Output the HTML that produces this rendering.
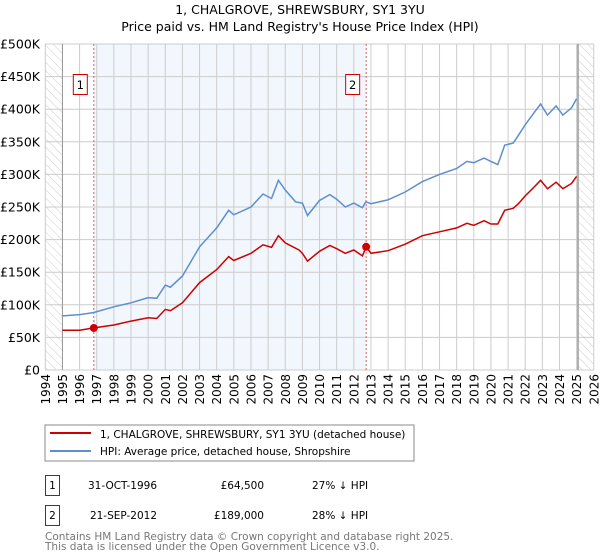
<!DOCTYPE html>
<html><head><meta charset="utf-8"><style>
body{margin:0;background:#fff;font-family:"DejaVu Sans","Liberation Sans",sans-serif;}
svg{display:block}
text{font-family:"DejaVu Sans","Liberation Sans",sans-serif;}
</style></head><body>
<svg id="c" width="600" height="560">
<defs><pattern id="hatch" width="6" height="6" patternUnits="userSpaceOnUse" patternTransform="rotate(-45)"><line x1="0" y1="0" x2="0" y2="6" stroke="#ccc" stroke-width="1"/></pattern></defs>
<text x="300" y="14" text-anchor="middle" font-size="12.5">1, CHALGROVE, SHREWSBURY, SY1 3YU</text>
<text x="300" y="31" text-anchor="middle" font-size="12.5">Price paid vs. HM Land Registry's House Price Index (HPI)</text>
<g id="plot"></g>
<rect x="45" y="425" width="369" height="36" fill="none" stroke="#888"/>
<line x1="50" y1="433" x2="91" y2="433" stroke="#cc0000" stroke-width="2"/>
<text x="100" y="438" font-size="10.5">1, CHALGROVE, SHREWSBURY, SY1 3YU (detached house)</text>
<line x1="50" y1="451" x2="91" y2="451" stroke="#5b8fd0" stroke-width="2"/>
<text x="100" y="455" font-size="10.5">HPI: Average price, detached house, Shropshire</text>
<g font-size="10.5">
<rect x="45.5" y="475.5" width="14" height="20" fill="#fff" stroke="#cc0000"/>
<text x="52.5" y="489" text-anchor="middle">1</text>
<text x="157" y="489" text-anchor="end">31-OCT-1996</text>
<text x="264" y="489" text-anchor="end">£64,500</text>
<text x="312" y="489">27% ↓ HPI</text>
<rect x="45.5" y="505.5" width="14" height="20" fill="#fff" stroke="#cc0000"/>
<text x="52.5" y="519" text-anchor="middle">2</text>
<text x="157" y="519" text-anchor="end">21-SEP-2012</text>
<text x="264" y="519" text-anchor="end">£189,000</text>
<text x="312" y="519">28% ↓ HPI</text>
</g>
<text x="45" y="540" font-size="10.5" fill="#777">Contains HM Land Registry data © Crown copyright and database right 2025.</text>
<text x="45" y="550" font-size="10.5" fill="#777">This data is licensed under the Open Government Licence v3.0.</text>
</svg>
<script>
const yTicks=[0,50,100,150,200,250,300,350,400,450,500];
const yLabels=["£0","£50K","£100K","£150K","£200K","£250K","£300K","£350K","£400K","£450K","£500K"];
const years=[1994,1995,1996,1997,1998,1999,2000,2001,2002,2003,2004,2005,2006,2007,2008,2009,2010,2011,2012,2013,2014,2015,2016,2017,2018,2019,2020,2021,2022,2023,2024,2025,2026];
const hpiT=[1995,1996,1996.8,1998,1999,2000,2000.5,2001,2001.3,2002,2003,2004,2004.7,2005,2006,2006.7,2007.2,2007.6,2008,2008.6,2009,2009.3,2010,2010.6,2011,2011.5,2012,2012.5,2012.7,2013,2014,2015,2016,2017,2018,2018.6,2019,2019.6,2020,2020.4,2020.8,2021.3,2021.6,2022,2022.5,2022.9,2023.3,2023.8,2024.2,2024.7,2025];
const hpiV=[83,85,88,97,103,111,110,130,127,144,189,218,245,238,250,270,263,291,276,258,256,237,260,269,262,250,256,249,258,255,261,273,289,300,309,320,318,325,320,315,345,348,360,376,394,408,391,405,391,402,416];
const priceT=[1995,1996,1996.83,1998,1999,2000,2000.5,2001,2001.3,2002,2003,2004,2004.7,2005,2006,2006.7,2007.2,2007.6,2008,2008.8,2009,2009.3,2010,2010.6,2011,2011.5,2012,2012.5,2012.72,2013,2014,2015,2016,2017,2018,2018.6,2019,2019.6,2020,2020.4,2020.8,2021.3,2021.6,2022,2022.5,2022.9,2023.3,2023.8,2024.2,2024.7,2025];
const priceV=[61,61,64.5,69,75,80,79,93,91,103,134,154,174,168,179,192,188,206,195,184,179,167,182,191,186,179,184,175,189,179,183,193,206,212,218,225,222,229,224,224,245,248,255,267,280,291,278,288,278,286,297];
const saleT=[1996.83,2012.72];
const saleV=[64.5,189];
const saleLabels=["1","2"];

const NS="http://www.w3.org/2000/svg";
const X=t=>45.3+(t-1994)*17.14;
const Y=v=>370-v*0.652;
const g=document.getElementById('plot');
function mk(tag,attrs,parent){const e=document.createElementNS(NS,tag);for(const k in attrs)e.setAttribute(k,attrs[k]);(parent||g).appendChild(e);return e;}
let e;
e=mk('rect',{x:X(saleT[0]),y:Y(500),width:X(saleT[1])-X(saleT[0]),height:Y(0)-Y(500),fill:'#eef3fc',opacity:0.75});


e=mk('rect',{x:X(1994),y:Y(500),width:X(1995)-X(1994),height:Y(0)-Y(500),fill:'url(#hatch)'});


e=mk('rect',{x:X(2025.08),y:Y(500),width:X(2026)-X(2025.08),height:Y(0)-Y(500),fill:'url(#hatch)'});


years.forEach(yr=>{
  e=mk('line',{x1:X(yr),x2:X(yr),y1:Y(500),y2:Y(0),stroke:'#ccc','stroke-width':1});
  
  
  e=mk('text',{x:0,y:0,'font-size':12,'text-anchor':'end',transform:`translate(${X(yr)+4.5},374) rotate(-90)`});
  e.textContent=yr;
  
  
});
yTicks.forEach((v,i)=>{
  e=mk('line',{x1:X(1994),x2:X(2026),y1:Y(v),y2:Y(v),stroke:'#ccc','stroke-width':1});
  
  
  e=mk('text',{x:40,y:Y(v)+4.5,'font-size':12.5,'text-anchor':'end'});
  e.textContent=yLabels[i];
  
  
});
e=mk('line',{x1:X(1995),x2:X(1995),y1:Y(500),y2:Y(0),stroke:'#999','stroke-width':1});


e=mk('line',{x1:X(2025.08),x2:X(2025.08),y1:Y(500),y2:Y(0),stroke:'#999','stroke-width':1.5});


saleT.forEach((t,i)=>{
  e=mk('line',{x1:X(t),x2:X(t),y1:Y(500),y2:Y(0),stroke:'#e06060','stroke-width':1,'stroke-dasharray':'2,2'});
  
  
});
function path(T,V){return T.map((t,i)=>(i?'L':'M')+X(t).toFixed(1)+','+Y(V[i]).toFixed(1)).join('');}
e=mk('path',{d:path(hpiT,hpiV),fill:'none',stroke:'#5b8fd0','stroke-width':1.5});


e=mk('path',{d:path(priceT,priceV),fill:'none',stroke:'#cc0000','stroke-width':1.5});


saleT.forEach((t,i)=>{
  e=mk('circle',{cx:X(t),cy:Y(saleV[i]),r:4,fill:'#cc0000'});
  
  
  const bx=X(t)-21;
  e=mk('rect',{x:bx+0.5,y:74.5,width:14,height:20,fill:'#fff',stroke:'#cc0000'});
  
  
  e=mk('text',{x:bx+7.5,y:89,'font-size':11.5,'text-anchor':'middle'});
  e.textContent=saleLabels[i];
  
  
});
</script>
</body></html>
